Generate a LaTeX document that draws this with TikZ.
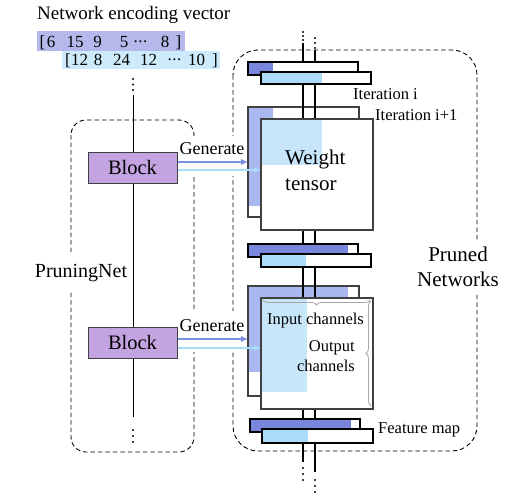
\documentclass[tikz,border=0pt]{standalone}
\usepackage{fontspec}
\setmainfont{Liberation Serif}
\usetikzlibrary{decorations.pathreplacing,arrows.meta}
\definecolor{dkblue}{HTML}{7887DC}
\definecolor{ltblue}{HTML}{AADCFA}
\definecolor{sqpurple}{HTML}{AAB8F0}
\definecolor{sqblue}{HTML}{C8E6FA}
\definecolor{blockc}{HTML}{C3A3E0}
\definecolor{vecA}{HTML}{B4B8EA}
\definecolor{vecB}{HTML}{CDEBFA}
\definecolor{arrA}{HTML}{7B8FE0}
\definecolor{arrB}{HTML}{A8DCF8}
\tikzset{
  dashbox/.style={draw=black, line width=0.9pt, dash pattern=on 4.5pt off 3pt},
  blockbox/.style={draw=black!75, line width=1pt, fill=blockc, minimum width=89pt, minimum height=31pt, inner sep=0pt, font=\fontsize{20.5}{24}\selectfont},
  sqbox/.style={draw=black!75, line width=1.2pt},
  barbox/.style={draw=black, line width=1.1pt},
  vline/.style={line width=1.1pt, black},
  arrowA/.style={draw=arrA, line width=2.6pt, -{Latex[length=7pt,width=6.5pt]}},
  arrowB/.style={draw=arrB, line width=2.6pt, -{Latex[length=7pt,width=6.5pt]}},
  brc/.style={draw=black!35, line width=0.8pt, decorate, decoration={brace, amplitude=5pt, mirror}},
  lbl/.style={inner sep=0pt, font=\fontsize{16.5}{20}\selectfont},
  gen/.style={inner sep=0pt, font=\fontsize{18}{22}\selectfont},
  vec/.style={inner sep=0pt, anchor=base, font=\fontsize{17}{20}\selectfont},
}
\newcommand{\vdotsat}[3]{\fill (#1,#2) circle (1.2pt) (#1,{(#2+#3)/2}) circle (1.2pt) (#1,#3) circle (1.2pt);}
\newcommand{\tightdots}{\raisebox{0.28em}{.\kern0.5pt.\kern0.5pt.}}
\begin{document}
\begin{tikzpicture}[x=1pt,y=-1pt]
\useasboundingbox (0,0) rectangle (506,499);

% title and vectors
\node[anchor=west, inner sep=0pt, font=\fontsize{19}{23}\selectfont] (title) at (37,15) {Network encoding vector};
\fill[vecA] (37,31) rectangle (185,51);
\fill[vecB] (62,51) rectangle (220,69);
\foreach \t/\x [count=\i] in {{[}/42.5, 6/51, 15/75, 9/97.5, 5/124, {\tightdots}/140.5, 8/165, {]}/178.5}
  \node[vec] (va\i) at (\x,47.5) {\t};
\foreach \t/\x [count=\i] in {{[}/68, 12/79.5, 8/98, 24/121.5, 12/148.5, {\tightdots}/174.5, 10/196.5, {]}/215}
  \node[vec] (vb\i) at (\x,65.5) {\t};

% PruningNet
\draw[dashbox, rounded corners=15pt] (71,120) rectangle (194,452);
\coordinate (pt) at (133,95);
\coordinate (pb) at (133,417);
\draw[vline, line width=1pt] (pt) -- (pb);
\vdotsat{133}{79}{90}
\vdotsat{133}{430}{442}
\node[blockbox] (b1) at (132.5,167.5) {Block};
\node[blockbox] (b2) at (132.5,342.5) {Block};
\node[fill=white, inner xsep=2pt, inner ysep=10pt, anchor=base, font=\fontsize{20}{24}\selectfont] (pn) at (81,277) {PruningNet};

% Pruned networks box
\draw[dashbox, rounded corners=25pt] (233,50) rectangle (477,451);
\node[fill=white, inner xsep=1pt, inner ysep=6pt, align=center, font=\fontsize{21}{25}\selectfont] (pnw) at (458,267) {Pruned\\Networks};

% white gaps for generate arrows
\fill[white] (184,136) rectangle (241,176);
\fill[white] (184,311) rectangle (241,352);

% back squares
\node[sqbox, fill=white, anchor=north west, minimum width=110pt, minimum height=109pt, inner sep=0pt] (bs1) at (248,107) {};
\fill[sqpurple] (248,107) rectangle (273,206);
\draw[sqbox] (bs1.north west) rectangle (bs1.south east);
\node[sqbox, fill=white, anchor=north west, minimum width=110pt, minimum height=109pt, inner sep=0pt] (bs2) at (248,286) {};
\fill[sqpurple] (248,286) rectangle (348,372);
\draw[sqbox] (bs2.north west) rectangle (bs2.south east);

% vertical lines
\coordinate (la) at (303,43);
\coordinate (lab) at (303,462);
\coordinate (lb) at (315,50);
\coordinate (lbb) at (315,472);
\draw[vline] (la) -- (lab);
\draw[vline] (lb) -- (lbb);
\vdotsat{303}{32}{40}
\vdotsat{315}{38}{48}
\vdotsat{303}{468}{480}
\vdotsat{315}{480}{492}

% feature map bars
% pair 1
\fill[white] (248,62) rectangle (358,75);
\fill[dkblue] (248,62) rectangle (273,75);
\draw[barbox] (248,62) rectangle (358,75);
\fill[white] (261,72) rectangle (371,84);
\fill[ltblue] (261,72) rectangle (322,84);
\draw[barbox] (261,72) rectangle (371,84);
% pair 2
\fill[white] (248,244) rectangle (358,257);
\fill[dkblue] (248,244) rectangle (348,257);
\draw[barbox] (248,244) rectangle (358,257);
\fill[white] (261,254) rectangle (371,267);
\fill[ltblue] (261,254) rectangle (306,267);
\draw[barbox] (261,254) rectangle (371,267);
% pair 3
\fill[white] (250,419) rectangle (360,432);
\fill[dkblue] (250,419) rectangle (351,432);
\draw[barbox] (250,419) rectangle (360,432);
\fill[white] (262,429) rectangle (373,443);
\fill[ltblue] (262,429) rectangle (308,443);
\draw[barbox] (262,429) rectangle (373,443);

% front squares
\node[sqbox, fill=white, anchor=north west, minimum width=111pt, minimum height=110pt, inner sep=0pt] (fs1) at (261,119) {};
\fill[sqblue] (261,119) rectangle (322,165);
\draw[sqbox] (fs1.north west) rectangle (fs1.south east);
\node[sqbox, fill=white, anchor=north west, minimum width=111pt, minimum height=110pt, inner sep=0pt] (fs2) at (261,298) {};
\fill[sqblue] (261,298) rectangle (307,392);
\draw[sqbox] (fs2.north west) rectangle (fs2.south east);

% texts in pruned networks
\node[anchor=west, inner sep=0pt, align=left, font=\fontsize{21}{26}\selectfont] (wt) at (285,170) {Weight\\tensor};
\node[lbl, anchor=west] (it1) at (353,94) {Iteration i};
\node[lbl, anchor=west] (it2) at (375,115) {Iteration i+1};
\node[lbl, anchor=west] (fm) at (378,430) {Feature map};
\node[lbl] (ic) at (315.5,321) {Input channels};
\node[lbl, anchor=east, align=right] (oc) at (355,356) {Output\\channels};
\draw[brc] (263,300) -- (370,300);
\draw[brc] (371,301) -- (371,406);

% generate arrows
\draw[arrowA] ([yshift=5.5pt]b1.east) -- ([yshift=5.5pt]b1.east -| bs1.west);
\draw[arrowB] ([yshift=-2.5pt]b1.east) -- ([yshift=-2.5pt]b1.east -| fs1.west);
\draw[arrowA] ([yshift=3.5pt]b2.east) -- ([yshift=3.5pt]b2.east -| bs2.west);
\draw[arrowB] ([yshift=-5.5pt]b2.east) -- ([yshift=-5.5pt]b2.east -| fs2.west);
\node[gen, anchor=base] (g1) at (212,154) {Generate};
\node[gen, anchor=base] (g2) at (212,331) {Generate};
\end{tikzpicture}
\end{document}
